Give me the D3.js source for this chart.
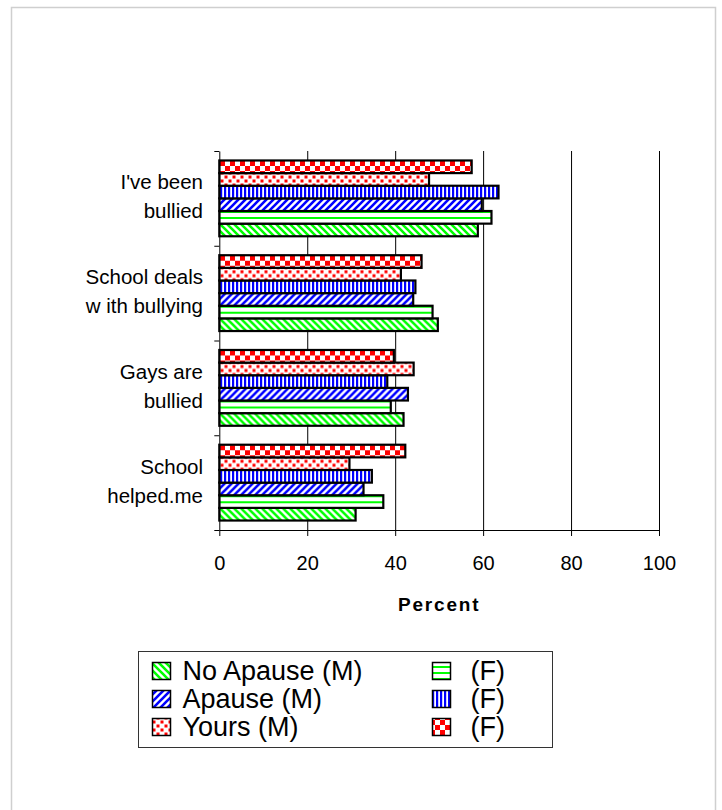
<!DOCTYPE html>
<html>
<head>
<meta charset="utf-8">
<script src="https://cdn.jsdelivr.net/npm/d3@7"></script>
<style>
  body { margin: 0; background: #fff; }
  text { font-family: "Liberation Sans", Arial, sans-serif; fill: #000; }
</style>
</head>
<body>
<div id="chart"></div>
<script>
// categories, top to bottom
var categories = ["I've been bullied", "School deals with bullying", "Gays are bullied", "School helped.me"];
var labelLines = [["I've been", "bullied"], ["School deals", "w ith bullying"], ["Gays are", "bullied"], ["School", "helped.me"]];

// series values (percent), one per category
var noApauseM = [58.8, 49.7, 41.9, 31.0];
var noApauseF = [61.9, 48.5, 39.0, 37.3];
var apauseM   = [59.7, 44.1, 42.9, 32.8];
var apauseF   = [63.5, 44.6, 38.2, 34.7];
var yoursM    = [47.7, 41.3, 44.2, 29.6];
var yoursF    = [57.4, 46.0, 39.7, 42.3];

var seriesNames = ["No Apause (M)", "(F)", "Apause (M)", "(F)", "Yours (M)", "(F)"];
var xTicks = [0, 20, 40, 60, 80, 100];

var series = [
    {key: "noApauseM", name: seriesNames[0], values: noApauseM, fill: "url(#pGreenDiag)"},
    {key: "noApauseF", name: seriesNames[1], values: noApauseF, fill: "url(#pGreenHoriz)"},
    {key: "apauseM",   name: seriesNames[2], values: apauseM,   fill: "url(#pBlueDiag)"},
    {key: "apauseF",   name: seriesNames[3], values: apauseF,   fill: "url(#pBlueVert)"},
    {key: "yoursM",    name: seriesNames[4], values: yoursM,    fill: "url(#pRedDots)"},
    {key: "yoursF",    name: seriesNames[5], values: yoursF,    fill: "url(#pRedCheck)"}
];

var W = 722, H = 810;
var plot = {left: 219.3, right: 659, top: 151, bottom: 530};

var svg = d3.select("#chart").append("svg")
    .attr("width", W)
    .attr("height", H);

// outer frame
svg.append("rect")
    .attr("x", 11.5).attr("y", 7.5)
    .attr("width", 704).attr("height", 830)
    .attr("fill", "none")
    .attr("stroke", "#cfcfcf")
    .attr("stroke-width", 1.5);

// fill patterns
var defs = svg.append("defs");

function pattern(id, w, h){
    var p = defs.append("pattern")
        .attr("id", id)
        .attr("patternUnits", "userSpaceOnUse")
        .attr("width", w)
        .attr("height", h);
    p.append("rect").attr("width", w).attr("height", h).attr("fill", "#fff");
    return p;
}

pattern("pGreenDiag", 7, 7).append("path")
    .attr("d", "M0,0L7,7M-2,5L2,9M5,-2L9,2")
    .attr("stroke", "#00ff00").attr("stroke-width", 2.6);

var gh = pattern("pGreenHoriz", 6, 6);
gh.append("rect").attr("x", 0).attr("y", 0).attr("width", 6).attr("height", 2).attr("fill", "#00ff00");

pattern("pBlueDiag", 7, 7).append("path")
    .attr("d", "M0,7L7,0M-2,2L2,-2M5,9L9,5")
    .attr("stroke", "#0000ff").attr("stroke-width", 2.6);

var bv = pattern("pBlueVert", 4, 4);
bv.append("rect").attr("x", 0).attr("y", 0).attr("width", 2.2).attr("height", 4).attr("fill", "#0000ff");

var rd = pattern("pRedDots", 8, 8);
rd.append("rect").attr("x", 0.5).attr("y", 0.5).attr("width", 3).attr("height", 3).attr("fill", "#ff0000");
rd.append("rect").attr("x", 4.5).attr("y", 4.5).attr("width", 3).attr("height", 3).attr("fill", "#ff0000");

var rc = pattern("pRedCheck", 10, 10);
rc.append("rect").attr("x", 0).attr("y", 0).attr("width", 5).attr("height", 5).attr("fill", "#ff0000");
rc.append("rect").attr("x", 5).attr("y", 5).attr("width", 5).attr("height", 5).attr("fill", "#ff0000");

// scales
var x = d3.scaleLinear().domain([0, 100]).range([plot.left, plot.right]);
var y0 = d3.scaleBand().domain(categories).range([plot.top, plot.bottom]).padding(0);
// top bar in each group is the last series
var y1 = d3.scaleBand()
    .domain(series.map(function(s){ return s.key; }).reverse())
    .range([0, y0.bandwidth()])
    .paddingInner(0)
    .paddingOuter(0.75);

// gridlines
var grid = svg.append("g")
    .attr("transform", "translate(0," + plot.bottom + ")")
    .call(d3.axisBottom(x).tickValues(xTicks.slice(1)).tickSize(-(plot.bottom - plot.top)).tickFormat(""));
grid.select(".domain").remove();
grid.selectAll("line").attr("stroke", "#000").attr("stroke-width", 1);

// bars
var groups = svg.selectAll(".cat")
    .data(categories)
    .enter().append("g")
    .attr("class", "cat")
    .attr("transform", function(d){ return "translate(0," + y0(d) + ")"; });

groups.selectAll("rect")
    .data(function(d, i){ return series.map(function(s){ return {s: s, v: s.values[i]}; }); })
    .enter().append("rect")
    .attr("x", x(0))
    .attr("y", function(d){ return y1(d.s.key); })
    .attr("width", function(d){ return x(d.v) - x(0); })
    .attr("height", y1.bandwidth())
    .attr("fill", function(d){ return d.s.fill; })
    .attr("stroke", "#000")
    .attr("stroke-width", 2.2);

// x axis
var xAxis = svg.append("g")
    .attr("transform", "translate(0," + plot.bottom + ")")
    .call(d3.axisBottom(x).tickValues(xTicks).tickSize(6).tickSizeOuter(0));
xAxis.selectAll("line, path").attr("stroke", "#000");
xAxis.selectAll("text")
    .attr("y", 40).attr("dy", 0)
    .style("font-size", "20px")
    .style("font-family", "'Liberation Sans', Arial, sans-serif");

// y axis with ticks on the category boundaries
var yb = d3.scaleLinear().domain([0, categories.length]).range([plot.top, plot.bottom]);
var yAxis = svg.append("g")
    .attr("transform", "translate(" + plot.left + ",0)")
    .call(d3.axisLeft(yb).tickValues(d3.range(categories.length + 1)).tickSize(5).tickSizeOuter(0).tickFormat(""));
yAxis.selectAll("line, path").attr("stroke", "#000");

// category labels
labelLines.forEach(function(lines, i){
    var c = y0(categories[i]) + y0.bandwidth() / 2;
    var t = svg.append("text")
        .attr("text-anchor", "end")
        .style("font-size", "20.5px");
    lines.forEach(function(line, j){
        t.append("tspan")
            .attr("x", 203)
            .attr("y", c - 9 + j * 29)
            .text(line);
    });
});

// axis title
svg.append("text")
    .attr("x", (plot.left + plot.right) / 2)
    .attr("y", 611)
    .attr("text-anchor", "middle")
    .style("font-size", "19px")
    .style("font-weight", "bold")
    .style("letter-spacing", "1.8px")
    .text("Percent");

// legend
var legend = svg.append("g");
legend.append("rect")
    .attr("x", 138.5).attr("y", 651.5)
    .attr("width", 414).attr("height", 96)
    .attr("fill", "#fff")
    .attr("stroke", "#333")
    .attr("stroke-width", 1);

var legCols = [152.5, 432.5];
var legText = [182.5, 470.5];
series.forEach(function(s, i){
    var col = i % 2, row = Math.floor(i / 2);
    var base = 679.5 + row * 28;
    legend.append("rect")
        .attr("x", legCols[col]).attr("y", base - 17)
        .attr("width", 18).attr("height", 17)
        .attr("fill", s.fill)
        .attr("stroke", "#000")
        .attr("stroke-width", 1.5);
    legend.append("text")
        .attr("x", legText[col]).attr("y", base)
        .style("font-size", "27px")
        .text(s.name);
});
</script>
</body>
</html>
